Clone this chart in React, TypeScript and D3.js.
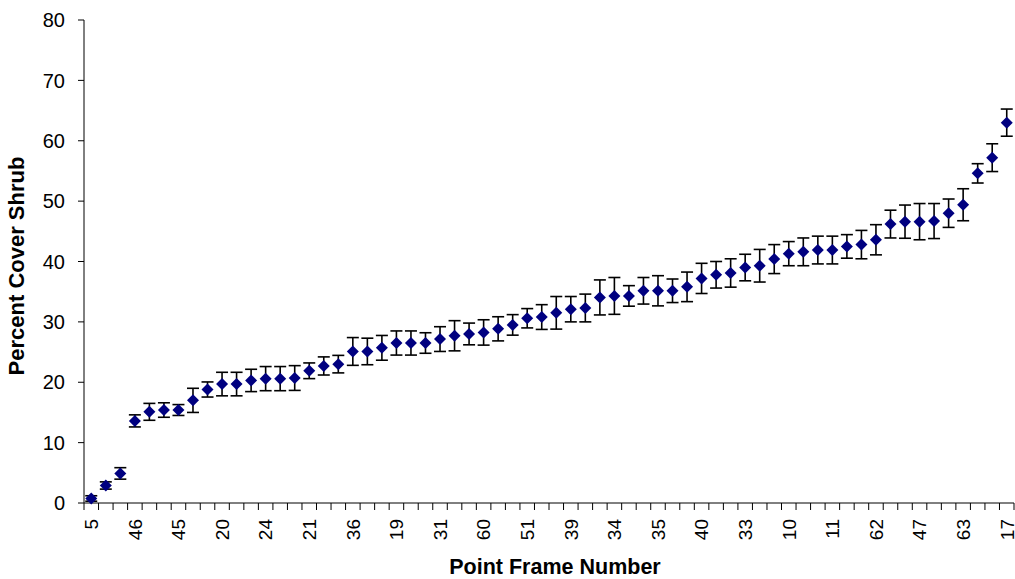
import React from "react";
import * as d3 from "d3";

const tickLabels: string[] = [
  "5", "46", "45", "20", "24", "21", "36", "19", "31", "60", "51",
  "39", "34", "35", "40", "33", "10", "11", "62", "47", "63", "17",
];

const meanCover: number[] = [
  0.75, 2.9, 4.9, 13.6, 15.1, 15.4, 15.4, 17.0, 18.8, 19.7, 19.7,
  20.3, 20.6, 20.6, 20.7, 21.9, 22.7, 23.0, 25.1, 25.1, 25.7,
  26.5, 26.5, 26.5, 27.15, 27.7, 28.0, 28.25, 28.85, 29.5,
  30.6, 30.8, 31.5, 32.1, 32.3, 34.05, 34.3, 34.3, 35.15, 35.15,
  35.15, 35.8, 37.2, 37.8, 38.1, 39.0, 39.3, 40.4, 41.3, 41.6,
  41.9, 41.9, 42.5, 42.8, 43.6, 46.2, 46.6, 46.6, 46.7, 48.0,
  49.4, 54.6, 57.2, 63.0,
];

const errorCover: number[] = [
  0.45, 0.6, 0.95, 1.0, 1.4, 1.2, 0.9, 2.0, 1.25, 1.95, 1.95,
  1.85, 2.0, 2.0, 2.05, 1.3, 1.5, 1.45, 2.3, 2.2, 2.05,
  2.0, 2.0, 1.7, 2.05, 2.5, 1.8, 2.1, 2.0, 1.7,
  1.6, 2.05, 2.7, 2.1, 2.3, 2.9, 3.05, 1.7, 2.2, 2.5,
  1.95, 2.45, 2.5, 2.2, 2.35, 2.2, 2.7, 2.4, 2.0, 2.3,
  2.3, 2.3, 1.95, 2.35, 2.5, 2.3, 2.75, 3.0, 2.9, 2.35,
  2.65, 1.6, 2.3, 2.25,
];

const yTicks: number[] = [0, 10, 20, 30, 40, 50, 60, 70, 80];

const W = 1015;
const H = 579;
const left = 84;
const right = 1014;
const top = 20;
const bottom = 503;
const font = "'Liberation Sans', Arial, sans-serif";

export default function App() {
  const idx = d3.range(meanCover.length);
  const x = d3.scaleBand<number>().domain(idx).range([left, right]).padding(0);
  const y = d3.scaleLinear().domain([0, 80]).range([bottom, top]);
  const bw = x.bandwidth();
  const cx = (i: number) => (x(i) as number) + bw / 2;
  const diamond = (px: number, py: number, r: number) =>
    `M${px},${py - r}L${px + r},${py}L${px},${py + r}L${px - r},${py}Z`;
  const boundaries = d3.range(meanCover.length + 1).map((k) => left + k * bw);

  return (
    <svg
      width={W}
      height={H}
      style={{ position: "absolute", left: 0, top: 0, background: "#fff" }}
      fontFamily={font}
    >
      <rect x={0} y={0} width={W} height={H} fill="#fff" />
      {/* y axis */}
      <line x1={left} x2={left} y1={top} y2={bottom} stroke="#000" strokeWidth={1} />
      {yTicks.map((t) => (
        <g key={"y" + t}>
          <line x1={left - 6} x2={left} y1={y(t)} y2={y(t)} stroke="#000" strokeWidth={1} />
          <text x={65} y={y(t)} dy="0.36em" textAnchor="end" fontSize={20} fill="#000">
            {t}
          </text>
        </g>
      ))}
      {/* x axis */}
      <line x1={left} x2={right} y1={bottom} y2={bottom} stroke="#000" strokeWidth={1} />
      {boundaries.map((bx, k) => (
        <line key={"xt" + k} x1={bx} x2={bx} y1={bottom} y2={bottom + 7} stroke="#000" strokeWidth={1} />
      ))}
      {idx
        .filter((i) => i % 3 === 0)
        .map((i) => (
          <text
            key={"xl" + i}
            transform={`translate(${cx(i)},${519}) rotate(-90)`}
            textAnchor="end"
            dy="0.36em"
            fontSize={19}
            fill="#000"
          >
            {tickLabels[i / 3]}
          </text>
        ))}
      {/* error bars */}
      {idx.map((i) => {
        const px = cx(i);
        const y1 = y(meanCover[i] + errorCover[i]);
        const y2 = y(meanCover[i] - errorCover[i]);
        return (
          <g key={"e" + i} stroke="#000" strokeWidth={1.6}>
            <line x1={px} x2={px} y1={y1} y2={y2} />
            <line x1={px - 6} x2={px + 6} y1={y1} y2={y1} />
            <line x1={px - 6} x2={px + 6} y1={y2} y2={y2} />
          </g>
        );
      })}
      {/* markers */}
      {idx.map((i) => (
        <path key={"m" + i} d={diamond(cx(i), y(meanCover[i]), 6)} fill="#000080" />
      ))}
      {/* titles */}
      <text
        transform={`translate(${24},${266}) rotate(-90)`}
        textAnchor="middle"
        fontSize={22}
        fontWeight="bold"
        fill="#000"
      >
        Percent Cover Shrub
      </text>
      <text x={555} y={574} textAnchor="middle" fontSize={21.5} fontWeight="bold" fill="#000">
        Point Frame Number
      </text>
    </svg>
  );
}
